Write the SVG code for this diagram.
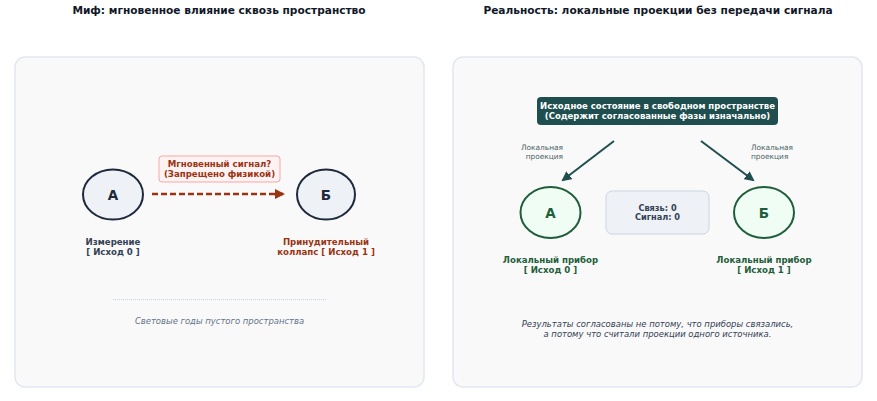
<svg xmlns="http://www.w3.org/2000/svg" width="877" height="401" viewBox="0 0 877 401">
<style>
text{font-family:"DejaVu Sans","Noto Sans",sans-serif;}
.title{font-size:10.6px;font-weight:bold;fill:#111827;text-anchor:middle;}
.panel{fill:#f9f9f9;stroke:#e2e8f0;stroke-width:1.5;}
.nodeL{fill:#eef2f7;stroke:#1e293b;stroke-width:2;}
.nodeR{fill:#f0fdf4;stroke:#1e5e3a;stroke-width:2;}
.nl{font-size:13.5px;font-weight:bold;text-anchor:middle;}
.lbl{font-size:8.6px;font-weight:bold;text-anchor:middle;}
.small{font-size:7.4px;fill:#4b6565;}
.it{font-size:8.45px;font-style:italic;text-anchor:middle;}
</style>
<defs>
<marker id="arrRed" viewBox="0 0 10 10" refX="8" refY="5" markerWidth="4" markerHeight="4" orient="auto"><path d="M0,0 L10,5 L0,10 z" fill="#9a3412"/></marker>
<marker id="arrTeal" viewBox="0 0 10 10" refX="8" refY="5" markerWidth="5" markerHeight="5" orient="auto"><path d="M0,0 L10,5 L0,10 z" fill="#1f4e4f"/></marker>
</defs>
<text class="title" x="219" y="14">Миф: мгновенное влияние сквозь пространство</text>
<text class="title" x="658" y="14">Реальность: локальные проекции без передачи сигнала</text>
<rect class="panel" x="15" y="57" width="409" height="330" rx="10"/>
<rect class="panel" x="453" y="57" width="409" height="330" rx="10"/>

<g id="connectors">
<line x1="152" y1="194" x2="283" y2="194" stroke="#9a3412" stroke-width="2.5" stroke-dasharray="6,3" marker-end="url(#arrRed)"/>
<line x1="614" y1="141" x2="563" y2="180" stroke="#1f4e4f" stroke-width="2" marker-end="url(#arrTeal)"/>
<line x1="701" y1="141" x2="753" y2="180" stroke="#1f4e4f" stroke-width="2" marker-end="url(#arrTeal)"/>
</g>

<g id="signal-label">
<rect x="159" y="156" width="121" height="26" rx="3" fill="#fef2f2" stroke="#fca5a5" stroke-width="1"/>
<text class="lbl" x="219.5" y="167" fill="#9a3412">Мгновенный сигнал?</text>
<text class="lbl" x="219.5" y="177" fill="#9a3412">(Запрещено физикой)</text>
</g>

<g id="myth-A">
<ellipse class="nodeL" cx="113" cy="194.5" rx="30" ry="25"/>
<text class="nl" x="113" y="199.5" fill="#1e293b">А</text>
<text class="lbl" x="113" y="245" fill="#334155">Измерение</text>
<text class="lbl" x="113" y="255" fill="#334155">[ Исход 0 ]</text>
</g>
<g id="myth-B">
<ellipse class="nodeL" cx="326" cy="194.5" rx="29" ry="25"/>
<text class="nl" x="326" y="199.5" fill="#1e293b">Б</text>
<text class="lbl" x="326" y="245" fill="#9a3412">Принудительный</text>
<text class="lbl" x="326" y="255" fill="#9a3412">коллапс [ Исход 1 ]</text>
</g>
<g id="space">
<line x1="113" y1="299.5" x2="326" y2="299.5" stroke="#cbd5e1" stroke-width="1" stroke-dasharray="1,1"/>
<text class="it" x="219.5" y="324" fill="#64748b">Световые годы пустого пространства</text>
</g>

<g id="source">
<rect x="537" y="97" width="241" height="28" rx="4" fill="#1f4e4f"/>
<text class="lbl" x="657.5" y="109" fill="#ffffff" style="font-size:8.5px">Исходное состояние в свободном пространстве</text>
<text class="lbl" x="657.5" y="119" fill="#ffffff" style="font-size:8.5px">(Содержит согласованные фазы изначально)</text>
</g>
<g id="proj-labels">
<text class="small" x="563" y="150" text-anchor="end">Локальная</text>
<text class="small" x="563" y="159" text-anchor="end">проекция</text>
<text class="small" x="751" y="150">Локальная</text>
<text class="small" x="751" y="159">проекция</text>
</g>
<g id="real-A">
<ellipse class="nodeR" cx="550.5" cy="212.5" rx="30" ry="25.5"/>
<text class="nl" x="550.5" y="217.5" fill="#1e5e3a">А</text>
<text class="lbl" x="550.5" y="263" fill="#1e5e3a">Локальный прибор</text>
<text class="lbl" x="550.5" y="273" fill="#1e5e3a">[ Исход 0 ]</text>
</g>
<g id="real-B">
<ellipse class="nodeR" cx="764" cy="212.5" rx="30" ry="25.5"/>
<text class="nl" x="764" y="217.5" fill="#1e5e3a">Б</text>
<text class="lbl" x="764" y="263" fill="#1e5e3a">Локальный прибор</text>
<text class="lbl" x="764" y="273" fill="#1e5e3a">[ Исход 1 ]</text>
</g>
<g id="link-box">
<rect x="606" y="191" width="103" height="43" rx="6" fill="#eef2f7" stroke="#cbd5e1" stroke-width="1"/>
<text class="lbl" x="657.5" y="210.5" fill="#334155" style="font-size:8.2px">Связь: 0</text>
<text class="lbl" x="657.5" y="219.5" fill="#334155" style="font-size:8.2px">Сигнал: 0</text>
</g>
<g id="conclusion">
<text class="it" x="657.5" y="327" fill="#334155">Результаты согласованы не потому, что приборы связались,</text>
<text class="it" x="657.5" y="337" fill="#334155">а потому что считали проекции одного источника.</text>
</g>
</svg>
